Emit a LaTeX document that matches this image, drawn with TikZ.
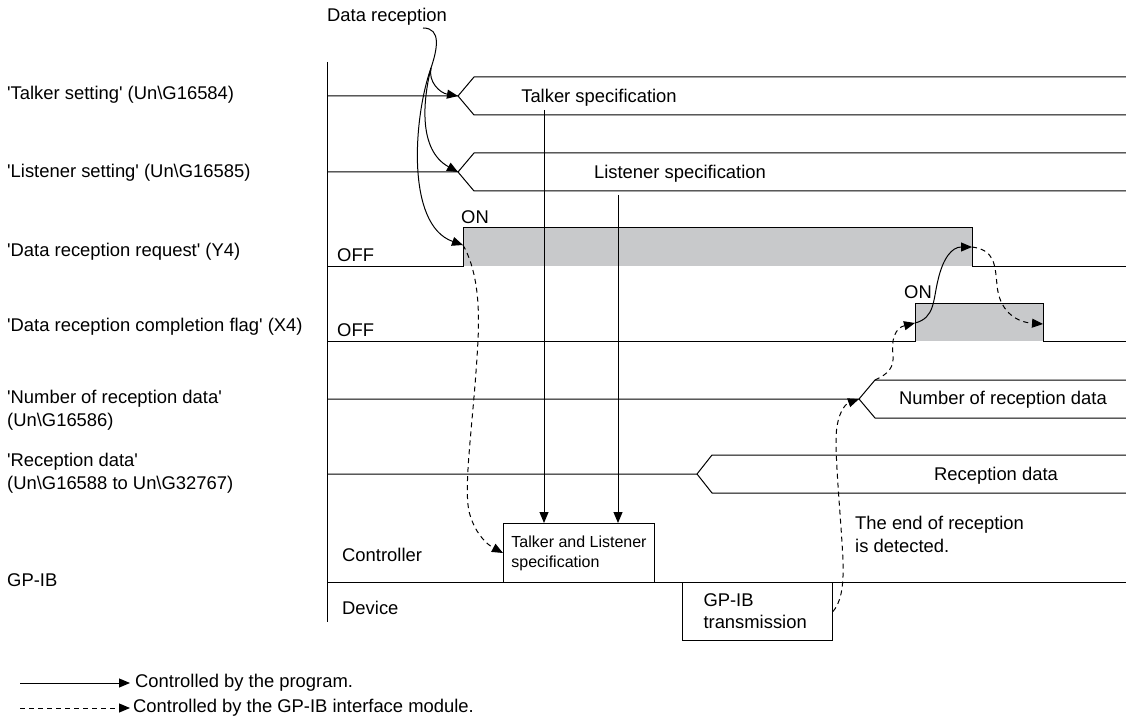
\documentclass[tikz,border=0pt]{standalone}
\usepackage{fontspec}
\setmainfont{Liberation Sans}
\usetikzlibrary{arrows.meta}
\definecolor{sigfill}{RGB}{200,201,203}
\newcommand{\q}{\textquotesingle}
\begin{document}
\begin{tikzpicture}[x=1pt,y=-1pt,
  wire/.style={line width=1pt,black},
  arr/.style={line width=1pt,-{Triangle[length=11pt,width=9pt]}},
  darr/.style={line width=1pt,dash pattern=on 5pt off 4pt,-{Triangle[length=11pt,width=9pt]}},
  txt/.style={inner sep=0pt,font=\fontsize{18.4}{23}\selectfont},
  stxt/.style={inner sep=0pt,font=\fontsize{16}{20}\selectfont},
  box/.style={draw,line width=1pt,inner ysep=0pt,align=left}]
\useasboundingbox (0,0) rectangle (1126,719);

% left labels
\node[txt,anchor=west] (lTalk) at (7,95) {\q Talker setting\q{} (Un\textbackslash G16584)};
\node[txt,anchor=west] (lListen) at (7,173) {\q Listener setting\q{} (Un\textbackslash G16585)};
\node[txt,anchor=west] (lReq) at (7,252) {\q Data reception request\q{} (Y4)};
\node[txt,anchor=west] (lComp) at (7,327) {\q Data reception completion flag\q{} (X4)};
\node[txt,anchor=west,align=left] (lNum) at (7,410) {\q Number of reception data\q\\(Un\textbackslash G16586)};
\node[txt,anchor=west,align=left] (lRecv) at (7,473) {\q Reception data\q\\(Un\textbackslash G16588 to Un\textbackslash G32767)};
\node[txt,anchor=west] (lGpib) at (7,580) {GP-IB};

% axis
\coordinate (axT) at (327,62);
\coordinate (axB) at (327,622);
\draw[wire] (axT) -- (axB);

% Talker setting band
\coordinate (tkP) at (458,96);
\draw[wire] (327,96) -- (tkP) -- (474,77) -- (1126,77);
\draw[wire] (tkP) -- (474,115) -- (1126,115);
\node[txt] (tTalkSpec) at (599,98) {Talker specification};

% Listener setting band
\coordinate (lsP) at (458,172);
\draw[wire] (327,172) -- (lsP) -- (474,153) -- (1126,153);
\draw[wire] (lsP) -- (474,191) -- (1126,191);
\node[txt] (tListSpec) at (680,174) {Listener specification};

% Data reception request (Y4)
\fill[sigfill] (463,228) rectangle (972,266);
\coordinate (y4r) at (463,245);
\coordinate (y4f) at (972,247);
\draw[wire] (327,266) -- (463,266) -- (463,228) -- (972,228) -- (972,266) -- (1126,266);
\node[txt] (tOn1) at (475,217) {ON};
\node[txt,anchor=west] (tOff1) at (337,255) {OFF};

% Data reception completion flag (X4)
\fill[sigfill] (915,303) rectangle (1043,341);
\coordinate (x4r) at (915,323);
\coordinate (x4f) at (1043,324);
\draw[wire] (327,341) -- (915,341) -- (915,303) -- (1043,303) -- (1043,341) -- (1126,341);
\node[txt] (tOn2) at (918,292) {ON};
\node[txt,anchor=west] (tOff2) at (337,330) {OFF};

% Number of reception data
\coordinate (nP) at (859,399);
\coordinate (nU) at (875,380);
\draw[wire] (327,399) -- (nP) -- (nU) -- (1126,380);
\draw[wire] (nP) -- (875,418) -- (1126,418);
\node[txt] (tNum) at (1003,400) {Number of reception data};

% Reception data
\coordinate (rP) at (697,474);
\draw[wire] (327,474) -- (rP) -- (712,455) -- (1126,455);
\draw[wire] (rP) -- (712,493) -- (1126,493);
\node[txt] (tRecv) at (996,476) {Reception data};

% GP-IB area
\draw[wire] (327,582) -- (1126,582);
\node[txt,anchor=west] (tCtrl) at (342,555) {Controller};
\node[txt,anchor=west] (tDev) at (342,608) {Device};
\node[box,stxt,anchor=north west,minimum width=151pt,minimum height=59pt,inner xsep=7pt] (bCtrl) at (503,523) {Talker and Listener\\specification};
\node[box,txt,anchor=north west,minimum width=150pt,minimum height=58pt,text width=108pt,inner xsep=21pt,font=\fontsize{18.4}{22}\selectfont] (bGpib) at (682,582) {GP-IB\\transmission};
\node[txt,anchor=west,align=left] (tEnd) at (855,534) {The end of reception\\is detected.};

% Data reception node and arrows
\node[txt,anchor=west] (tDataRx) at (327,17) {Data reception};
\coordinate (d0) at (423,28);
\coordinate (dm) at (431,68);
\draw[arr] (d0) .. controls (442,28) and (437,50) .. (dm) .. controls (428,82) and (440,93) .. (tkP);
\draw[arr] (dm) .. controls (423,100) and (418,150) .. (lsP);
\draw[arr] (dm) .. controls (414,115) and (405,225) .. (y4r);

% program-controlled vertical arrows
\coordinate (ts0) at (544,110);
\coordinate (ls0) at (618,195);
\draw[arr] (ts0) -- (ts0 |- bCtrl.north);
\draw[arr] (ls0) -- (ls0 |- bCtrl.north);

% module-controlled arrows
\draw[darr] (y4r) .. controls (476,268) and (480,300) .. (478,340) .. controls (474,420) and (462,490) .. (470,515) .. controls (476,535) and (488,545) .. (bCtrl.west);
\draw[darr] (bGpib.east) .. controls (840,603) and (844,590) .. (843,560) .. controls (841,520) and (836,470) .. (836,440) .. controls (836,415) and (845,404) .. (nP);
\draw[darr] (nU) .. controls (888,374) and (894,368) .. (893,355) .. controls (891,340) and (895,328) .. (x4r);
\draw[arr] (x4r) .. controls (935,318) and (933,300) .. (938,280) .. controls (943,258) and (952,247) .. (y4f);
\draw[darr] (y4f) .. controls (995,250) and (995,265) .. (997,285) .. controls (999,310) and (1015,322) .. (x4f);

% legend
\coordinate (lg1a) at (20,683);
\coordinate (lg1b) at (130,683);
\coordinate (lg2a) at (20,708);
\coordinate (lg2b) at (130,708);
\draw[arr] (lg1a) -- (lg1b);
\draw[darr] (lg2a) -- (lg2b);
\node[txt,anchor=west] (tLg1) at (135,683) {Controlled by the program.};
\node[txt,anchor=west] (tLg2) at (133,708) {Controlled by the GP-IB interface module.};
\end{tikzpicture}
\end{document}
